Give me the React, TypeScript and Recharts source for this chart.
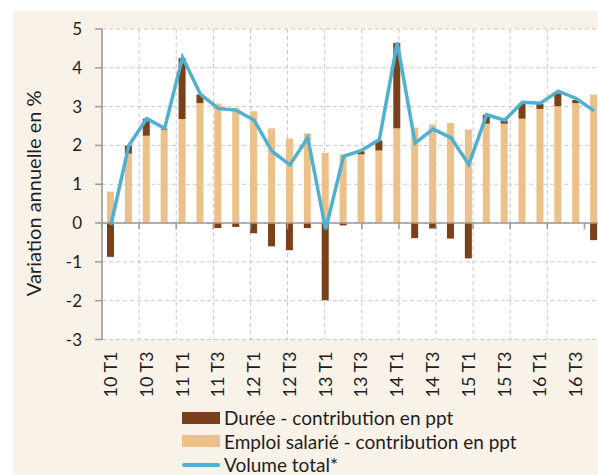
import React from 'react'
import {
  ComposedChart,
  Bar,
  Line,
  XAxis,
  YAxis,
  CartesianGrid,
  ReferenceLine,
} from 'recharts'

// ── Data ──────────────────────────────────────────────────────────────────────

const quarters = [
  '10 T1', '10 T2', '10 T3', '10 T4',
  '11 T1', '11 T2', '11 T3', '11 T4',
  '12 T1', '12 T2', '12 T3', '12 T4',
  '13 T1', '13 T2', '13 T3', '13 T4',
  '14 T1', '14 T2', '14 T3', '14 T4',
  '15 T1', '15 T2', '15 T3', '15 T4',
  '16 T1', '16 T2', '16 T3', '16 T4',
]

// Emploi salarié - contribution en ppt
const emploiSalarie = [
  0.81, 1.79, 2.25, 2.41,
  2.68, 3.09, 3.08, 2.96,
  2.88, 2.44, 2.18, 2.31,
  1.81, 1.77, 1.77, 1.87,
  2.44, 2.46, 2.54, 2.58,
  2.41, 2.56, 2.56, 2.69,
  2.94, 3.01, 3.09, 3.31,
]

// Durée - contribution en ppt
const duree = [
  -0.87, 0.2, 0.44, 0.02,
  1.57, 0.22, -0.13, -0.1,
  -0.26, -0.6, -0.7, -0.13,
  -1.99, -0.06, 0.08, 0.26,
  2.2, -0.39, -0.14, -0.4,
  -0.91, 0.23, 0.08, 0.39,
  0.13, 0.33, 0.08, -0.44,
]

// Volume total*
const volumeTotal = [
  -0.05, 2.0, 2.69, 2.44,
  4.27, 3.32, 2.95, 2.91,
  2.65, 1.85, 1.5, 2.2,
  -0.16, 1.72, 1.87, 2.15,
  4.65, 2.06, 2.42, 2.2,
  1.51, 2.79, 2.65, 3.11,
  3.09, 3.4, 3.21, 2.89,
]

const yTicks = [-3, -2, -1, 0, 1, 2, 3, 4, 5]
// category boundaries (every two quarters) for grid lines and axis ticks
const boundaryTicks = [0, 2, 4, 6, 8, 10, 12, 14, 16, 18, 20, 22, 24, 26, 28]

// ── Styles ────────────────────────────────────────────────────────────────────

const BROWN = '#7a4019'
const TAN = '#ecc089'
const BLUE = '#4fb0cf'
const AXIS = '#9a9a9a'
const GRID = '#c9c9c9'
const TEXT = '#1e1e1e'
const CREAM = '#f9f2e8'
const FONT = 'Lato, "Open Sans", sans-serif'

const chartData = quarters.map((q, i) => ({
  q,
  emploi: emploiSalarie[i],
  duree: duree[i],
  volume: volumeTotal[i],
}))

function QuarterTick(props: any) {
  const { x, y, payload } = props
  const tx = x + 6
  const ty = y + 12
  return (
    <text
      x={tx}
      y={ty}
      transform={`rotate(-90 ${tx} ${ty})`}
      textAnchor="end"
      fontSize={18}
      fontFamily={FONT}
      fill={TEXT}
    >
      {payload.value}
    </text>
  )
}

function YTitle(props: any) {
  const vb = props.viewBox
  const cx = 41
  const cy = vb.y + vb.height / 2 + 9
  return (
    <text
      x={cx}
      y={cy}
      transform={`rotate(-90 ${cx} ${cy})`}
      textAnchor="middle"
      fontSize={20}
      fontFamily={FONT}
      fill={TEXT}
    >
      Variation annuelle en %
    </text>
  )
}

const legendItems = [
  { label: 'Durée - contribution en ppt', color: BROWN, kind: 'box' },
  { label: 'Emploi salarié - contribution en ppt', color: TAN, kind: 'box' },
  { label: 'Volume total*', color: BLUE, kind: 'line' },
]

// ── Component ─────────────────────────────────────────────────────────────────

export default function App() {
  return (
    <div
      style={{
        position: 'fixed',
        left: 0,
        top: 0,
        width: 598,
        height: 475,
        overflow: 'hidden',
        background: '#fff',
        fontFamily: FONT,
      }}
    >
      <div style={{ position: 'absolute', left: 13, top: 11, right: 0, bottom: 0, background: CREAM }} />

      <div style={{ position: 'absolute', left: 0, top: 0 }}>
        <ComposedChart
          width={603}
          height={475}
          data={chartData}
          stackOffset="sign"
          barSize={7}
          margin={{ top: 29, right: 0, bottom: 0, left: 0 }}
        >
          <CartesianGrid
            xAxisId="grid"
            stroke={GRID}
            strokeDasharray="4 3"
            fill="#ffffff"
            fillOpacity={1}
          />
          <XAxis
            dataKey="q"
            interval={1}
            tick={<QuarterTick />}
            tickLine={false}
            axisLine={false}
            tickSize={0}
            tickMargin={0}
            height={135.5}
          />
          <XAxis
            xAxisId="grid"
            type="number"
            domain={[0, 28]}
            ticks={boundaryTicks}
            hide
          />
          <YAxis
            domain={[-3, 5]}
            ticks={yTicks}
            width={102}
            tickSize={7}
            tickMargin={13}
            axisLine={{ stroke: AXIS, strokeWidth: 1.5 }}
            tickLine={{ stroke: AXIS, strokeWidth: 1.5 }}
            tick={{ fontSize: 17, fill: TEXT, fontFamily: FONT }}
            label={{ content: <YTitle /> }}
          />
          <Bar dataKey="emploi" stackId="a" fill={TAN} isAnimationActive={false} />
          <Bar dataKey="duree" stackId="a" fill={BROWN} isAnimationActive={false} />
          <ReferenceLine y={0} stroke={AXIS} strokeWidth={1.5} />
          {boundaryTicks.map((b) => (
            <ReferenceLine
              key={b}
              xAxisId="grid"
              segment={[{ x: b, y: 0 }, { x: b, y: -0.16 }]}
              stroke={AXIS}
              strokeWidth={1.5}
            />
          ))}
          <Line
            type="linear"
            dataKey="volume"
            stroke={BLUE}
            strokeWidth={3.5}
            dot={false}
            isAnimationActive={false}
          />
        </ComposedChart>
      </div>

      {/* Legend */}
      <div style={{ position: 'absolute', left: 182, top: 406, color: TEXT, fontSize: 19, lineHeight: '23.5px' }}>
        {legendItems.map((item) => (
          <div key={item.label} style={{ display: 'flex', alignItems: 'center', height: 23.5 }}>
            {item.kind === 'box' ? (
              <span style={{ display: 'inline-block', width: 38, height: 12, background: item.color, marginRight: 4 }} />
            ) : (
              <span style={{ display: 'inline-block', width: 38, height: 4, borderRadius: 2, background: item.color, marginRight: 4 }} />
            )}
            <span>{item.label}</span>
          </div>
        ))}
      </div>
    </div>
  )
}
